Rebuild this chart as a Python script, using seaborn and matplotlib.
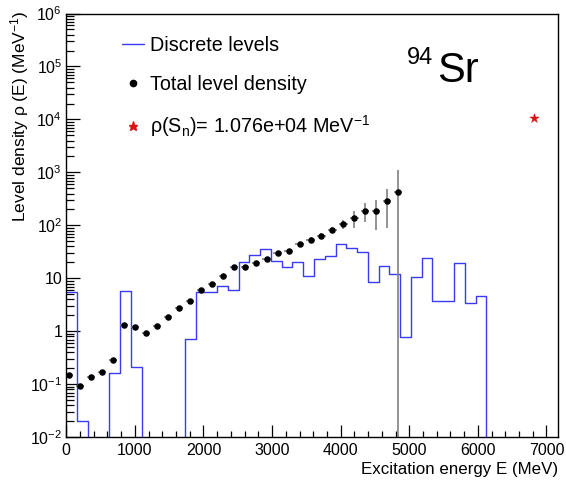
import numpy as np
import pandas as pd
import matplotlib
matplotlib.use("Agg")
import matplotlib.pyplot as plt
from matplotlib.lines import Line2D
from matplotlib.ticker import LogLocator, MultipleLocator, NullFormatter, FixedLocator, FixedFormatter
import seaborn as sns

# Discrete-level histogram (157 keV bins starting at 0)
bin_width = 157.0
discrete_levels = [5.5, 0.0206, 0, 0, 0.166, 5.9, 0.21, 0, 0, 0, 0, 0.72,
                   5.6, 5.6, 7.2, 6.1, 20, 28, 35.8, 21.5, 16.4, 20.6, 10.9,
                   23.2, 26, 44.5, 37.4, 31.4, 8.5, 17.3, 12.1, 0.78, 10.6,
                   23.8, 3.8, 3.8, 19.7, 3.4, 4.75, 0, 0, 0, 0, 0]

# Total level density points
energy = [40 + 160 * i for i in range(31)]
density = [0.15, 0.093, 0.138, 0.174, 0.286, 1.31, 1.23, 0.95, 1.27, 1.88,
           2.78, 3.66, 6.1, 8.0, 10.9, 16.6, 16.6, 19.5, 23.5, 30, 32.8,
           44.5, 53.7, 63, 83, 104, 138, 190, 190, 289, 421]
density_err = [0.005, 0.004, 0.005, 0.006, 0.01, 0.04, 0.04, 0.03, 0.04, 0.06,
               0.09, 0.12, 0.2, 0.3, 0.4, 0.6, 0.7, 0.9, 1.2, 1.8, 2.2,
               4, 6, 8, 12, 20, 50, 72, 107, 200, 675]
energy_err = 60.0

# Level density at the neutron separation energy
sn_energy = [6823]
sn_density = [1.076e4]

y_ticks = [1e-2, 1e-1, 1, 10, 1e2, 1e3, 1e4, 1e5, 1e6]
y_tick_labels = [r"$\mathregular{10^{-2}}$", r"$\mathregular{10^{-1}}$", "1", "10",
                 r"$\mathregular{10^{2}}$", r"$\mathregular{10^{3}}$",
                 r"$\mathregular{10^{4}}$", r"$\mathregular{10^{5}}$",
                 r"$\mathregular{10^{6}}$"]

sns.set_theme(style="ticks", rc={
    "xtick.direction": "in", "ytick.direction": "in",
    "xtick.bottom": True, "ytick.left": True,
    "xtick.top": False, "ytick.right": False,
    "xtick.color": "black", "ytick.color": "black",
    "text.color": "black", "axes.labelcolor": "black",
})
plt.rcParams["font.family"] = ["Liberation Sans", "DejaVu Sans"]
plt.rcParams["mathtext.fontset"] = "custom"
plt.rcParams["mathtext.rm"] = "Liberation Sans"
plt.rcParams["mathtext.it"] = "Liberation Sans:italic"

fig = plt.figure(figsize=(5.66, 4.80), dpi=100)
ax = fig.add_axes([66.3 / 566, 1 - 437.3 / 480, (558 - 66.3) / 566, (437.3 - 13.5) / 480])

edges = [bin_width * k for k in range(len(discrete_levels) + 1)]
centers = [e + bin_width / 2 for e in edges[:-1]]
hist_df = pd.DataFrame({"E": centers, "w": discrete_levels})
sns.histplot(data=hist_df, x="E", weights="w", bins=edges, element="step",
             fill=False, color="#3a3af0", linewidth=1.0, ax=ax)

ax.set_yscale("log")
ax.errorbar(energy, density, yerr=density_err, xerr=energy_err, fmt="none",
            ecolor="#808080", elinewidth=1.2, capsize=0, zorder=3)
pts = pd.DataFrame({"E": energy, "rho": density})
sns.scatterplot(data=pts, x="E", y="rho", color="black", s=22, marker="o",
                edgecolor="black", linewidth=0, ax=ax, zorder=4)
sn_df = pd.DataFrame({"E": sn_energy, "rho": sn_density})
sns.scatterplot(data=sn_df, x="E", y="rho", color="#dd1111", s=50, marker="*",
                edgecolor="#dd1111", linewidth=0.3, ax=ax, zorder=4)

ax.set_xlim(0, 7168)
ax.set_ylim(1e-2, 1e6)

ax.yaxis.set_major_locator(FixedLocator(y_ticks))
ax.yaxis.set_major_formatter(FixedFormatter(y_tick_labels))
ax.yaxis.set_minor_locator(LogLocator(base=10, subs=np.arange(2, 10), numticks=20))
ax.yaxis.set_minor_formatter(NullFormatter())
ax.xaxis.set_major_locator(MultipleLocator(1000))
ax.xaxis.set_minor_locator(MultipleLocator(200))

ax.tick_params(axis="both", which="both", direction="in", bottom=True, left=True,
               top=False, right=False, color="black", labelcolor="black",
               labelsize=11.5)
ax.tick_params(axis="x", which="major", length=8.6, width=0.9, pad=4)
ax.tick_params(axis="x", which="minor", length=4.0, width=0.9)
ax.tick_params(axis="y", which="major", length=10, width=0.9, pad=3)
ax.tick_params(axis="y", which="minor", length=5.4, width=0.9)
for s in ax.spines.values():
    s.set_linewidth(1.0)
    s.set_color("black")
    s.set_zorder(5)

ax.set_xlabel("Excitation energy E (MeV)", fontsize=12.2, loc="right", labelpad=3)
ax.set_ylabel(r"Level density ρ (E) (MeV$^\mathregular{-1}$)", fontsize=12.5)
ax.yaxis.label.set_horizontalalignment("right")
ax.yaxis.set_label_coords(-0.072, 1.008)

handles = [
    Line2D([], [], color="#3a3af0", linewidth=1.0),
    Line2D([], [], color="black", marker="o", markersize=4.5, linestyle="none"),
    Line2D([], [], color="#dd1111", marker="*", markersize=6.5, linestyle="none"),
]
labels = ["Discrete levels", "Total level density",
          r"ρ(S$_\mathregular{n}$)= 1.076e+04 MeV$^\mathregular{-1}$"]
ax.legend(handles, labels, loc="upper left",
          bbox_to_anchor=((121.7 - 66.3) / 491.7, (437.3 - 36) / 423.8),
          frameon=False, fontsize=14.2, handlelength=1.15, handletextpad=0.3,
          labelspacing=1.0, borderpad=0, borderaxespad=0)

fig.text(406.5 / 566, 1 - 63.5 / 480, "94", fontsize=17, ha="left", va="baseline")
fig.text(437.5 / 566, 1 - 82 / 480, "Sr", fontsize=30, ha="left", va="baseline")

fig.savefig("out.png", dpi=100, facecolor="white")
